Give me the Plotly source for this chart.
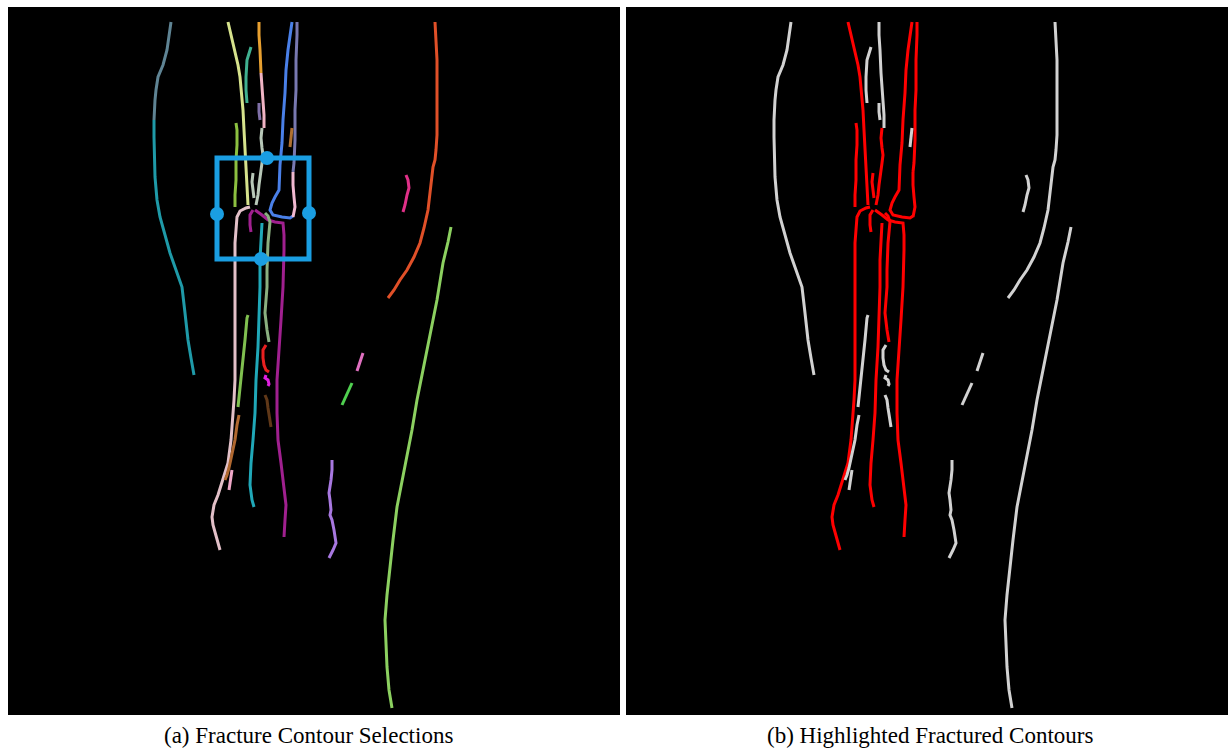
import plotly.graph_objects as go

W, H = 1228, 748

# ---- contour data (image pixel coordinates) ----
c01a_x = [171, 169, 167, 163, 158, 156, 155, 154]
c01a_y = [22, 35, 50, 65, 77, 90, 100, 120]
c01b_x = [154, 154, 155, 157, 160, 165, 170, 176, 182, 185, 188, 191, 194]
c01b_y = [120, 137, 177, 200, 217, 235, 253, 270, 287, 313, 340, 358, 375]
c02_x = [228, 231, 235, 238, 240, 242, 243, 244, 245, 246, 247, 248]
c02_y = [22, 35, 50, 65, 77, 95, 110, 130, 150, 170, 190, 205]
c03a_x = [259, 259, 260, 261, 261]
c03a_y = [22, 35, 50, 65, 73]
c03b_x = [261, 262, 263, 264, 264]
c03b_y = [73, 85, 100, 115, 128]
c03c_x = [259, 259, 260]
c03c_y = [103, 112, 120]
c03d_x = [262, 261, 262, 263, 262, 260, 259, 258, 256]
c03d_y = [128, 138, 148, 155, 163, 175, 185, 195, 205]
c03e_x = [253, 252, 253, 254]
c03e_y = [173, 182, 190, 198]
c04_x = [251, 249, 247, 246, 246, 247]
c04_y = [47, 53, 60, 77, 90, 103]
c05_x = [292, 290, 288, 286, 285, 283, 282, 280, 279, 275, 272, 270, 273, 282, 290, 293]
c05_y = [22, 35, 50, 70, 93, 120, 143, 165, 190, 197, 203, 210, 215, 217, 218, 216]
c06a_x = [297, 297, 296, 296, 295, 295, 294, 293]
c06a_y = [22, 35, 60, 90, 110, 140, 163, 172]
c06b_x = [293, 293, 294, 295, 294, 293]
c06b_y = [172, 185, 197, 207, 212, 217]
c07_x = [292, 291, 290]
c07_y = [128, 137, 147]
c08_x = [236, 237, 237, 236, 236, 235, 235]
c08_y = [123, 130, 145, 160, 180, 195, 207]
c09_x = [250, 246, 240, 237, 236, 235, 235, 235, 235, 234, 233, 231, 228, 223, 218, 214, 212, 213, 215, 218, 220]
c09_y = [207, 208, 211, 217, 230, 243, 287, 330, 380, 400, 413, 440, 463, 480, 495, 505, 517, 525, 533, 542, 550]
c10a_x = [255, 258, 262, 268, 275, 283, 284, 284, 283, 281, 279, 277, 277, 278, 281, 284, 286, 285, 284]
c10a_y = [210, 212, 215, 220, 222, 223, 235, 250, 287, 320, 347, 380, 413, 440, 463, 485, 505, 520, 537]
c10b_x = [253, 250, 250, 251]
c10b_y = [210, 215, 225, 232]
c11_x = [262, 261, 260, 260, 259, 258, 256, 255, 253, 251, 250, 252, 254]
c11_y = [223, 240, 260, 287, 320, 347, 380, 413, 440, 463, 485, 500, 507]
c12_x = [265, 268, 270, 269, 268, 267, 267, 265, 266, 267, 269]
c12_y = [213, 216, 222, 230, 243, 270, 287, 313, 322, 330, 342]
c13_x = [248, 247, 245, 243, 241, 239, 238]
c13_y = [315, 318, 340, 360, 380, 400, 407]
c14_x = [266, 263, 263, 264, 266, 269]
c14_y = [345, 350, 358, 365, 370, 372]
c15_x = [266, 265, 268, 269, 268]
c15_y = [375, 378, 380, 384, 386]
c16_x = [265, 267, 268, 269, 270, 271]
c16_y = [395, 400, 408, 415, 422, 427]
c17_x = [239, 237, 235, 233, 231, 229, 227, 225]
c17_y = [415, 425, 440, 450, 460, 468, 475, 480]
c18_x = [232, 231, 230, 229]
c18_y = [470, 477, 484, 490]
c19_x = [332, 332, 331, 330, 329, 330, 331, 330, 332, 334, 336, 333, 330, 329]
c19_y = [460, 470, 480, 490, 493, 500, 510, 515, 520, 530, 543, 550, 555, 558]
c20_x = [435, 436, 437, 437, 437, 437, 436, 435, 433, 430, 428, 424, 420, 414, 407, 400, 394, 388]
c20_y = [22, 40, 60, 85, 110, 135, 150, 160, 167, 190, 210, 228, 243, 257, 270, 280, 290, 298]
c21_x = [406, 408, 409, 407, 405, 403]
c21_y = [175, 180, 188, 195, 205, 212]
c22_x = [451, 448, 443, 437, 432, 427, 422, 417, 412, 407, 402, 397, 393, 390, 387, 385, 386, 387, 389, 392]
c22_y = [227, 242, 263, 300, 325, 350, 375, 400, 430, 457, 482, 507, 540, 567, 595, 620, 645, 667, 690, 708]
c23_x = [363, 360, 357]
c23_y = [353, 362, 371]
c24_x = [352, 347, 342]
c24_y = [383, 394, 405]

# selection box (closed outline, first edge repeated to close the corner) and its handles
sel_box_x = [217, 309, 309, 217, 217, 309]
sel_box_y = [158, 158, 259, 259, 158, 158]
handle_x = [267, 217, 309, 261]
handle_y = [158, 214, 213, 259]

# (x, y, colour in panel a, fractured?)
contours = [
    (c01a_x, c01a_y, "#5f8494", False),
    (c01b_x, c01b_y, "#1f9aa8", False),
    (c02_x, c02_y, "#d6e28c", True),
    (c03a_x, c03a_y, "#e8a030", False),
    (c03b_x, c03b_y, "#f0b4c4", False),
    (c03c_x, c03c_y, "#8070a8", False),
    (c03d_x, c03d_y, "#b8c8b8", True),
    (c03e_x, c03e_y, "#b8c8b8", True),
    (c04_x, c04_y, "#40b090", False),
    (c05_x, c05_y, "#4a80e8", True),
    (c06a_x, c06a_y, "#7878b0", True),
    (c06b_x, c06b_y, "#f0b8d0", True),
    (c07_x, c07_y, "#b07030", False),
    (c08_x, c08_y, "#8cc040", True),
    (c09_x, c09_y, "#e2c0c8", True),
    (c10a_x, c10a_y, "#a0208f", True),
    (c10b_x, c10b_y, "#a0208f", True),
    (c11_x, c11_y, "#20a8b8", True),
    (c12_x, c12_y, "#8ab080", True),
    (c13_x, c13_y, "#80c050", False),
    (c14_x, c14_y, "#e82020", False),
    (c15_x, c15_y, "#e020e0", False),
    (c16_x, c16_y, "#603818", False),
    (c17_x, c17_y, "#b06830", False),
    (c18_x, c18_y, "#f0a8c8", False),
    (c19_x, c19_y, "#a878e0", False),
    (c20_x, c20_y, "#e05028", False),
    (c21_x, c21_y, "#e03088", False),
    (c22_x, c22_y, "#8cd060", False),
    (c23_x, c23_y, "#e070c0", False),
    (c24_x, c24_y, "#50d050", False),
]

captions = ["(a) Fracture Contour Selections", "(b) Highlighted Fractured Contours"]

fig = go.Figure()
for xs, ys, col, frac in contours:
    fig.add_trace(go.Scatter(x=xs, y=ys, mode="lines", line=dict(color=col, width=3),
                             xaxis="x", yaxis="y", hoverinfo="skip", showlegend=False))
for xs, ys, col, frac in contours:
    fig.add_trace(go.Scatter(x=xs, y=ys, mode="lines",
                             line=dict(color="#ff0000" if frac else "#d2d2d2", width=3),
                             xaxis="x2", yaxis="y2", hoverinfo="skip", showlegend=False))

fig.add_trace(go.Scatter(x=sel_box_x, y=sel_box_y, mode="lines",
                         line=dict(color="#1a9ee2", width=5), xaxis="x", yaxis="y",
                         hoverinfo="skip", showlegend=False))
fig.add_trace(go.Scatter(x=handle_x, y=handle_y, mode="markers",
                         marker=dict(color="#1a9ee2", size=14), xaxis="x", yaxis="y",
                         hoverinfo="skip", showlegend=False))

ax = dict(showgrid=False, zeroline=False, showticklabels=False, ticks="", showline=False, fixedrange=True)
fig.update_layout(
    width=W, height=H,
    margin=dict(l=0, r=0, t=0, b=0),
    paper_bgcolor="white", plot_bgcolor="black",
    xaxis=dict(domain=[8 / W, 620 / W], range=[8, 620], anchor="y", **ax),
    yaxis=dict(domain=[1 - 715 / H, 1 - 7 / H], range=[715, 7], anchor="x", **ax),
    xaxis2=dict(domain=[626 / W, 1.0], range=[6, 608], anchor="y2", **ax),
    yaxis2=dict(domain=[1 - 715 / H, 1 - 7 / H], range=[715, 7], anchor="x2", **ax),
    annotations=[
        dict(text=captions[0], x=308 / W, y=1 - 735 / H, xref="paper", yref="paper",
             showarrow=False, xanchor="center", yanchor="middle",
             font=dict(family="Liberation Serif", size=23, color="black")),
        dict(text=captions[1], x=930 / W, y=1 - 735 / H, xref="paper", yref="paper",
             showarrow=False, xanchor="center", yanchor="middle",
             font=dict(family="Liberation Serif", size=23, color="black")),
    ],
)

fig.write_html("out.html", config={"displayModeBar": False},
               post_script="document.body.style.margin='0';document.body.style.padding='0';")
